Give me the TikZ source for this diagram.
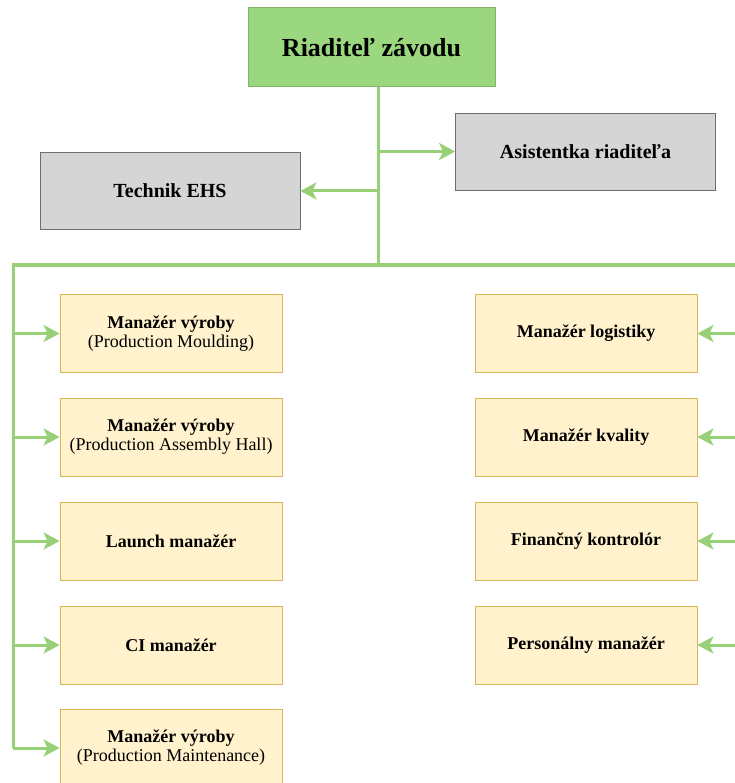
\documentclass[tikz,border=0pt]{standalone}
\usepackage{fontspec}
\setmainfont{Liberation Serif}
\usetikzlibrary{arrows.meta,calc,positioning}
\definecolor{dirfill}{HTML}{9AD77F}
\definecolor{dirline}{HTML}{82B366}
\definecolor{stafffill}{HTML}{D5D5D5}
\definecolor{staffline}{HTML}{6E6E6E}
\definecolor{mgrfill}{HTML}{FFF2CC}
\definecolor{mgrline}{HTML}{D6B656}
\definecolor{linkgreen}{HTML}{97D077}

\begin{document}
\begin{tikzpicture}[%
  x=1pt,y=-1pt,
  director/.style={rectangle,draw=dirline,fill=dirfill,line width=1pt,
    minimum width=247pt,minimum height=79pt,
    font=\fontsize{26}{30}\selectfont\bfseries},
  staff/.style={rectangle,draw=staffline,fill=stafffill,line width=0.8pt,
    minimum width=260pt,minimum height=77pt,
    font=\fontsize{20}{22}\selectfont\bfseries},
  manager/.style={rectangle,draw=mgrline,fill=mgrfill,line width=0.8pt,
    minimum width=222pt,minimum height=78pt,align=center,
    font=\fontsize{18}{19}\selectfont},
  link/.style={draw=linkgreen,line width=3pt},
  arrow/.style={link,-{Stealth[length=16pt,width=17pt,inset=4pt]}}]
    \useasboundingbox (0,0) rectangle (734,783);
    % Top
    \node[director] (dir) at (371.5,47.5) {Riaditeľ závodu};
    \node[staff] (asist) at (585.5,151.5) {Asistentka riaditeľa};
    \node[staff] (ehs) at (170,191) {Technik EHS};
    % Managers, left column
    \node[manager] (mold) at (171,333.5) {\textbf{Manažér výroby}\\(Production Moulding)};
    \node[manager] (hall) at (171,437) {\textbf{Manažér výroby}\\(Production Assembly Hall)};
    \node[manager] (launch) at (171,541) {\textbf{Launch manažér}};
    \node[manager] (ci) at (171,645) {\textbf{CI manažér}};
    \node[manager] (maint) at (171,748) {\textbf{Manažér výroby}\\(Production Maintenance)};
    % Managers, right column
    \node[manager] (log) at (586,333.5) {\textbf{Manažér logistiky}};
    \node[manager] (qual) at (586,437) {\textbf{Manažér kvality}};
    \node[manager] (fin) at (586,541) {\textbf{Finančný kontrolór}};
    \node[manager] (hr) at (586,645) {\textbf{Personálny manažér}};
    % Connectors
    \coordinate (hub) at (378,265);
    \coordinate (busL) at (13,265);
    \coordinate (busR) at (737,265);
    \draw[link] (dir.south -| hub) -- (hub);
    \draw[arrow] (hub |- asist) -- (asist.west);
    \draw[arrow] (hub |- ehs) -- (ehs.east);
    \draw[link] (busL |- maint) -- (busL) -- (busR) -- (busR |- hr);
    \foreach \m in {mold,hall,launch,ci,maint}
      \draw[arrow] (busL |- \m) -- (\m.west);
    \foreach \m in {log,qual,fin,hr}
      \draw[arrow] (busR |- \m) -- (\m.east);
\end{tikzpicture}
\end{document}
